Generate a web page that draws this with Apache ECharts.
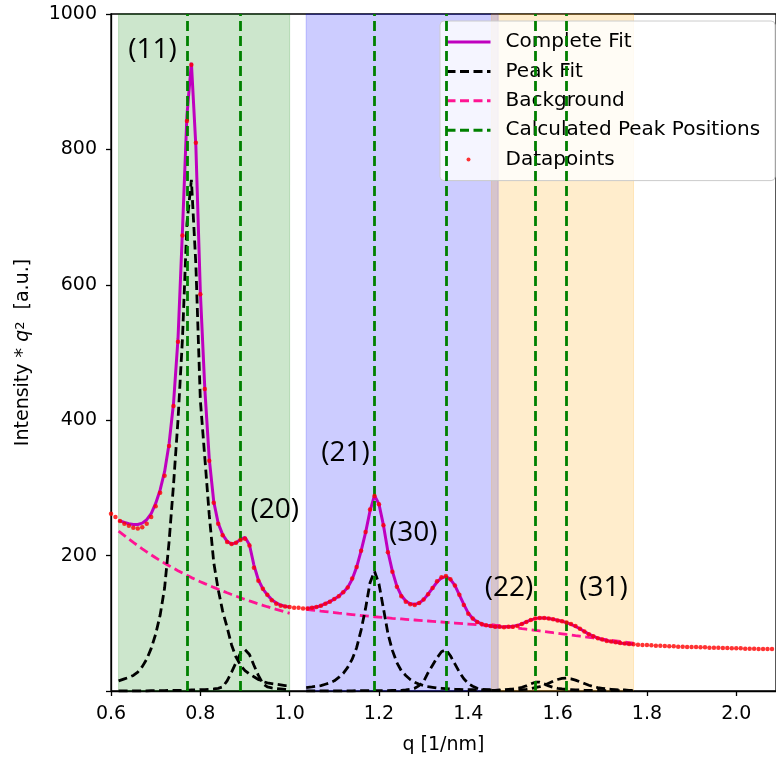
<!DOCTYPE html>
<html><head><meta charset="utf-8">
<script src="https://cdn.jsdelivr.net/npm/echarts@6/dist/echarts.min.js"></script>
<style>html,body{margin:0;padding:0;background:#fff}#c{width:776px;height:760px}</style>
</head><body><div id="c"></div>
<script>
// ---- data ----
const qDots = [
0.60,0.61,0.62,0.63,0.64,0.65,0.66,0.67,0.68,0.69,
0.70,0.71,0.72,0.73,0.74,0.75,0.76,0.77,0.78,0.79,
0.80,0.81,0.82,0.83,0.84,0.85,0.86,0.87,0.88,0.89,
0.90,0.91,0.92,0.93,0.94,0.95,0.96,0.97,0.98,0.99,
1.00,1.01,1.02,1.03,1.04,1.05,1.06,1.07,1.08,1.09,
1.10,1.11,1.12,1.13,1.14,1.15,1.16,1.17,1.18,1.19,
1.20,1.21,1.22,1.23,1.24,1.25,1.26,1.27,1.28,1.29,
1.30,1.31,1.32,1.33,1.34,1.35,1.36,1.37,1.38,1.39,
1.40,1.41,1.42,1.43,1.44,1.45,1.46,1.47,1.48,1.49,
1.50,1.51,1.52,1.53,1.54,1.55,1.56,1.57,1.58,1.59,
1.60,1.61,1.62,1.63,1.64,1.65,1.66,1.67,1.68,1.69,
1.70,1.71,1.72,1.73,1.74,1.75,1.76,1.77,1.78,1.79,
1.80,1.81,1.82,1.83,1.84,1.85,1.86,1.87,1.88,1.89,
1.90,1.91,1.92,1.93,1.94,1.95,1.96,1.97,1.98,1.99,
2.00,2.01,2.02,2.03,2.04,2.05,2.06,2.07,2.08];
const vDots = [
262,257,251,247,244,241,240,242,247,257,
273,293,318,362,421,516,673,842,925,810,
586,446,340,278,247,230,220,217,219,223,
225,215,182,163,151,142,134,129,126,125,
124,123,123,122,122,123,124,126,129,132,
136,140,146,153,166,183,207,235,268,288,
276,245,205,176,154,140,132,128,127,130,
135,143,152,162,168,170,165,156,142,127,
114,107,102,99,97,96,95,95,94,95,
95,96,99,102,105,107,108,108,107,106,
104,103,101,99,96,92,88,84,81,78,
76,74,73,72,71,70,69.5,69,68.5,68,
68,67.5,67,67,66.5,66,66,65.5,65.5,65,
65,65,64.5,64.5,64,64,64,63.5,63.5,63,
63,63,62.5,62.5,62.5,62,62,62,62];

// fit region 1 (green)
const qGreen = [0.617,0.63,0.64,0.65,0.66,0.67,0.68,0.69,0.70,0.71,0.72,0.73,0.74,0.75,0.76,0.77,0.78,0.79,
0.80,0.81,0.82,0.83,0.84,0.85,0.86,0.87,0.88,0.89,0.90,0.91,0.92,0.93,0.94,0.95,0.96,0.97,0.98,0.99,1.00];
const fitGreen = [252,249,247,246,246,248,253,262,277,297,324,365,425,520,680,850,928,805,
590,447,343,280,248,231,221,217,219,224,227,216,186,164,151,142,135,130,127,125,124];
const bgGreen = [236,229.5,224.5,219.5,214.7,210,205.5,201,196.8,192.7,188.8,185,181.3,177.7,174.2,170.8,167.5,164.5,
161.5,158.6,155.8,153,150.3,147.7,145.1,142.6,140.1,137.7,135.4,133.1,130.9,128.7,126.6,124.5,122.5,120.5,118.6,116.7,114.8];
const peak11 = [15,18,20,23,28,36,47,63,84,112,152,220,305,400,520,690,755,630,
430,345,260,190,150,118,94,68,50,38,30,25,21,17,14,12,11,10,9,8,8];
const peak20 = [0,0,0,0,0,0,0,0.5,0.5,0.5,0.5,1,1,1,1,1,1.5,1.5,
2,2,2.5,3,4,6,15,28,42,56,61,54,38,23,11,6,4.5,3.5,3,2.5,2];

// fit region 2 (blue)
const qBlue = [1.037,1.05,1.06,1.07,1.08,1.09,1.10,1.11,1.12,1.13,1.14,1.15,1.16,1.17,1.18,1.19,1.20,1.21,1.22,1.23,
1.24,1.25,1.26,1.27,1.28,1.29,1.30,1.31,1.32,1.33,1.34,1.35,1.36,1.37,1.38,1.39,1.40,1.41,1.42,1.43,1.44,1.45,1.46,1.467];
const fitBlue = [122,123,124,126,129,132,136,140,146,153,165,183,207,234,266,289,276,245,206,177,
155,141,133,129,128,130,135,143,152,161,167,169,165,156,142,128,115,107,102,99,97,96,95,95];
const bgBlue = [120.6,119.6,118.8,118,117.3,116.5,115.8,115,114.3,113.6,112.9,112.2,111.5,110.9,110.3,109.7,109.1,108.5,108,107.4,
106.9,106.4,105.9,105.4,104.9,104.4,103.9,103.4,102.9,102.4,101.9,101.4,100.9,100.4,99.9,99.4,98.9,98.4,97.9,97.4,96.9,96.4,95.9,95.6];
const peak21 = [5,6,7,8,10,12,15,20,26,35,47,64,90,122,160,177,158,122,85,60,
42,30,23,17,13,10,8,6.5,5.5,4.5,4,3.5,3,2.5,2.5,2,2,2,1.5,1.5,1.5,1.5,1,1];
const peak30 = [0,0,0,0,0,0,0,0,0,0,0,0.5,0.5,0.5,0.5,0.5,0.5,0.5,0.5,1,
1,1,1.5,2.5,4,8,14,27,38,49,58,61,52,40,28,18,11,7,4,2.5,2,1.5,1,1];

// fit region 3 (orange)
const qOrange = [1.452,1.46,1.47,1.48,1.49,1.50,1.51,1.52,1.53,1.54,1.55,1.56,1.57,1.58,1.59,1.60,1.61,
1.62,1.63,1.64,1.65,1.66,1.67,1.68,1.69,1.70,1.71,1.72,1.73,1.74,1.75,1.76,1.77];
const fitOrange = [96,95,95,94.5,95,95.5,97,99,102,105,107,108,108,107,106,104.5,103,
101,98.5,95.5,92,88,84,81,78,76,74.5,73,72,71,70,69.5,69];
const bgOrange = [98,97.3,96.5,95.6,94.7,93.9,93.0,92.1,91.3,90.4,89.6,88.7,87.8,87.0,86.1,85.3,84.4,
83.5,82.7,81.8,81.0,80.1,79.2,78.4,77.5,76.7,75.8,74.9,74.1,73.2,72.4,71.5,70.6];
const peak22 = [1,1,1.5,2,2.5,3,4,5.5,7.5,10.5,13,13,10.5,7.5,5.5,4,3,
2.5,2,1.5,1.5,1,1,1,1,0.5,0.5,0.5,0.5,0.5,0.5,0.5,0.5];
const peak31 = [0.5,0.5,1,1,1,1.5,1.5,2,2.5,3.5,5,6.5,8.5,11.5,14.5,17,18.5,
19,18,16,13.5,11,8.5,6.5,5,4,3,2.5,2,1.5,1.5,1,1];

// calculated peak positions
const peakPositions = [0.773,0.892,1.188,1.348,1.554,1.618];
// shaded fit ranges
const spanStart = [0.617,1.037,1.452];
const spanEnd = [1.000,1.467,1.770];
// peak annotations
const annText = ['(11)','(20)','(21)','(30)','(22)','(31)'];
const annQ = [0.693,0.9665,1.125,1.277,1.491,1.703];
const annV = [947,268,351,233,152,152];

const xTicks = {min:0.6, max:2.089, interval:0.2};
const yTicks = {min:0, max:1000, interval:200};

// ---- build chart ----
const pairs = (qs, vs) => qs.map((q, i) => [q, vs[i]]);
const FONT = 'DejaVu Sans';
const spanColors = ['rgba(0,128,0,0.2)','rgba(0,0,255,0.2)','rgba(255,165,0,0.2)'];

function lineSeries(name, data, color, width, type, z) {
  return {
    name, type:'line', data, color, symbol:'none', smooth:false, z,
    lineStyle:{color, width, type}, emphasis:{disabled:true}, silent:true
  };
}
const dash = [9,4.5];
const series = [];
series.push({
  name:'spans', type:'line', data:[], z:1, silent:true,
  markArea:{silent:true, data: spanStart.map((s,i)=>[
    {xAxis:s, itemStyle:{color:spanColors[i], opacity:1, borderColor:spanColors[i], borderWidth:1}},
    {xAxis:spanEnd[i]}])}
});
series.push({
  name:'Calculated Peak Positions', type:'line', data:[], z:2, color:'#008000', symbol:'none', silent:true,
  lineStyle:{color:'#008000', width:2.8, type:[10,5]},
  markLine:{silent:true, symbol:['none','none'], label:{show:false},
    lineStyle:{color:'#008000', width:2.8, type:[10,5]},
    data: peakPositions.map(p=>({xAxis:p}))}
});
[[qGreen,bgGreen],[qBlue,bgBlue],[qOrange,bgOrange]].forEach(([q,v])=>
  series.push(lineSeries('Background', pairs(q,v), '#ff1493', 2.8, dash, 3)));
[[qGreen,peak11],[qGreen,peak20],[qBlue,peak21],[qBlue,peak30],[qOrange,peak22],[qOrange,peak31]].forEach(([q,v])=>
  series.push(lineSeries('Peak Fit', pairs(q,v), '#000000', 2.8, dash, 3)));
[[qGreen,fitGreen],[qBlue,fitBlue],[qOrange,fitOrange]].forEach(([q,v])=>
  series.push(lineSeries('Complete Fit', pairs(q,v), '#bf00bf', 3, 'solid', 4)));
series.push({
  name:'Datapoints', type:'scatter', data:pairs(qDots,vDots), color:'#ff0000', z:5,
  symbol:'circle', symbolSize:4.5, itemStyle:{color:'#ff0000'}, silent:true
});
series.push({
  name:'annotations', type:'scatter', z:6, silent:true,
  data: annQ.map((q,i)=>[q, annV[i], annText[i]]),
  symbolSize:0.01, itemStyle:{color:'#000000', opacity:1},
  label:{show:true, position:'inside', formatter:p=>p.data[2], color:'#000000', opacity:1,
    fontSize:28, fontFamily:'Open Sans', fontWeight:'normal', textBorderWidth:0, textBorderColor:'transparent'}
});

const hideSym = {opacity:0};
const chart = echarts.init(document.getElementById('c'), null, {renderer:'canvas'});
chart.setOption({
  animation:false,
  backgroundColor:'#ffffff',
  grid:{left:111, right:-2, top:14, bottom:68, show:true, borderColor:'#000', borderWidth:1.3, backgroundColor:'rgba(0,0,0,0)'},
  legend:{
    data:[
      {name:'Complete Fit', itemStyle:hideSym, lineStyle:{width:3}},
      {name:'Peak Fit', itemStyle:hideSym, lineStyle:{width:3, type:[9,4.5]}},
      {name:'Background', itemStyle:hideSym, lineStyle:{width:3, type:[9,4.5]}},
      {name:'Calculated Peak Positions', itemStyle:hideSym, lineStyle:{width:3, type:[9,4.5]}},
      {name:'Datapoints'}
    ],
    orient:'vertical', left:440, top:21, itemWidth:44, itemHeight:4, itemGap:7.4,
    padding:[10,15,10,5], backgroundColor:'rgba(255,255,255,0.8)', borderColor:'#cccccc', borderWidth:1, borderRadius:4,
    selectedMode:false,
    textStyle:{fontSize:20, fontFamily:FONT, color:'#000', lineHeight:22, padding:[0,0,0,10]}
  },
  xAxis:{
    type:'value', min:xTicks.min, max:xTicks.max, interval:xTicks.interval,
    axisLine:{onZero:false, lineStyle:{color:'#000', width:1.3}},
    axisTick:{show:true, length:5, lineStyle:{color:'#000', width:1.3}},
    axisLabel:{color:'#000', fontSize:19, fontFamily:FONT, margin:14, showMaxLabel:false, formatter:v=>v.toFixed(1)},
    splitLine:{show:false},
    name:'q [1/nm]', nameLocation:'middle', nameGap:45,
    nameTextStyle:{color:'#000', fontSize:19, fontFamily:FONT}
  },
  yAxis:{
    type:'value', min:yTicks.min, max:yTicks.max, interval:yTicks.interval,
    axisLine:{show:true, onZero:false, lineStyle:{color:'#000', width:1.3}},
    axisTick:{show:true, length:5, lineStyle:{color:'#000', width:1.3}},
    axisLabel:{color:'#000', fontSize:19, fontFamily:FONT, margin:14, formatter:v=>v===0?'':String(v)},
    splitLine:{show:false},
    name:'{a|Intensity * }{b|q}{c|2}{a|  [a.u.]}', nameLocation:'middle', nameGap:78,
    nameTextStyle:{color:'#000', rich:{
      a:{fontSize:19, fontFamily:FONT, color:'#000'},
      b:{fontSize:19, fontFamily:FONT, fontStyle:'italic', color:'#000'},
      c:{fontSize:13, fontFamily:FONT, color:'#000', verticalAlign:'top'}
    }}
  },
  series
});
</script></body></html>
